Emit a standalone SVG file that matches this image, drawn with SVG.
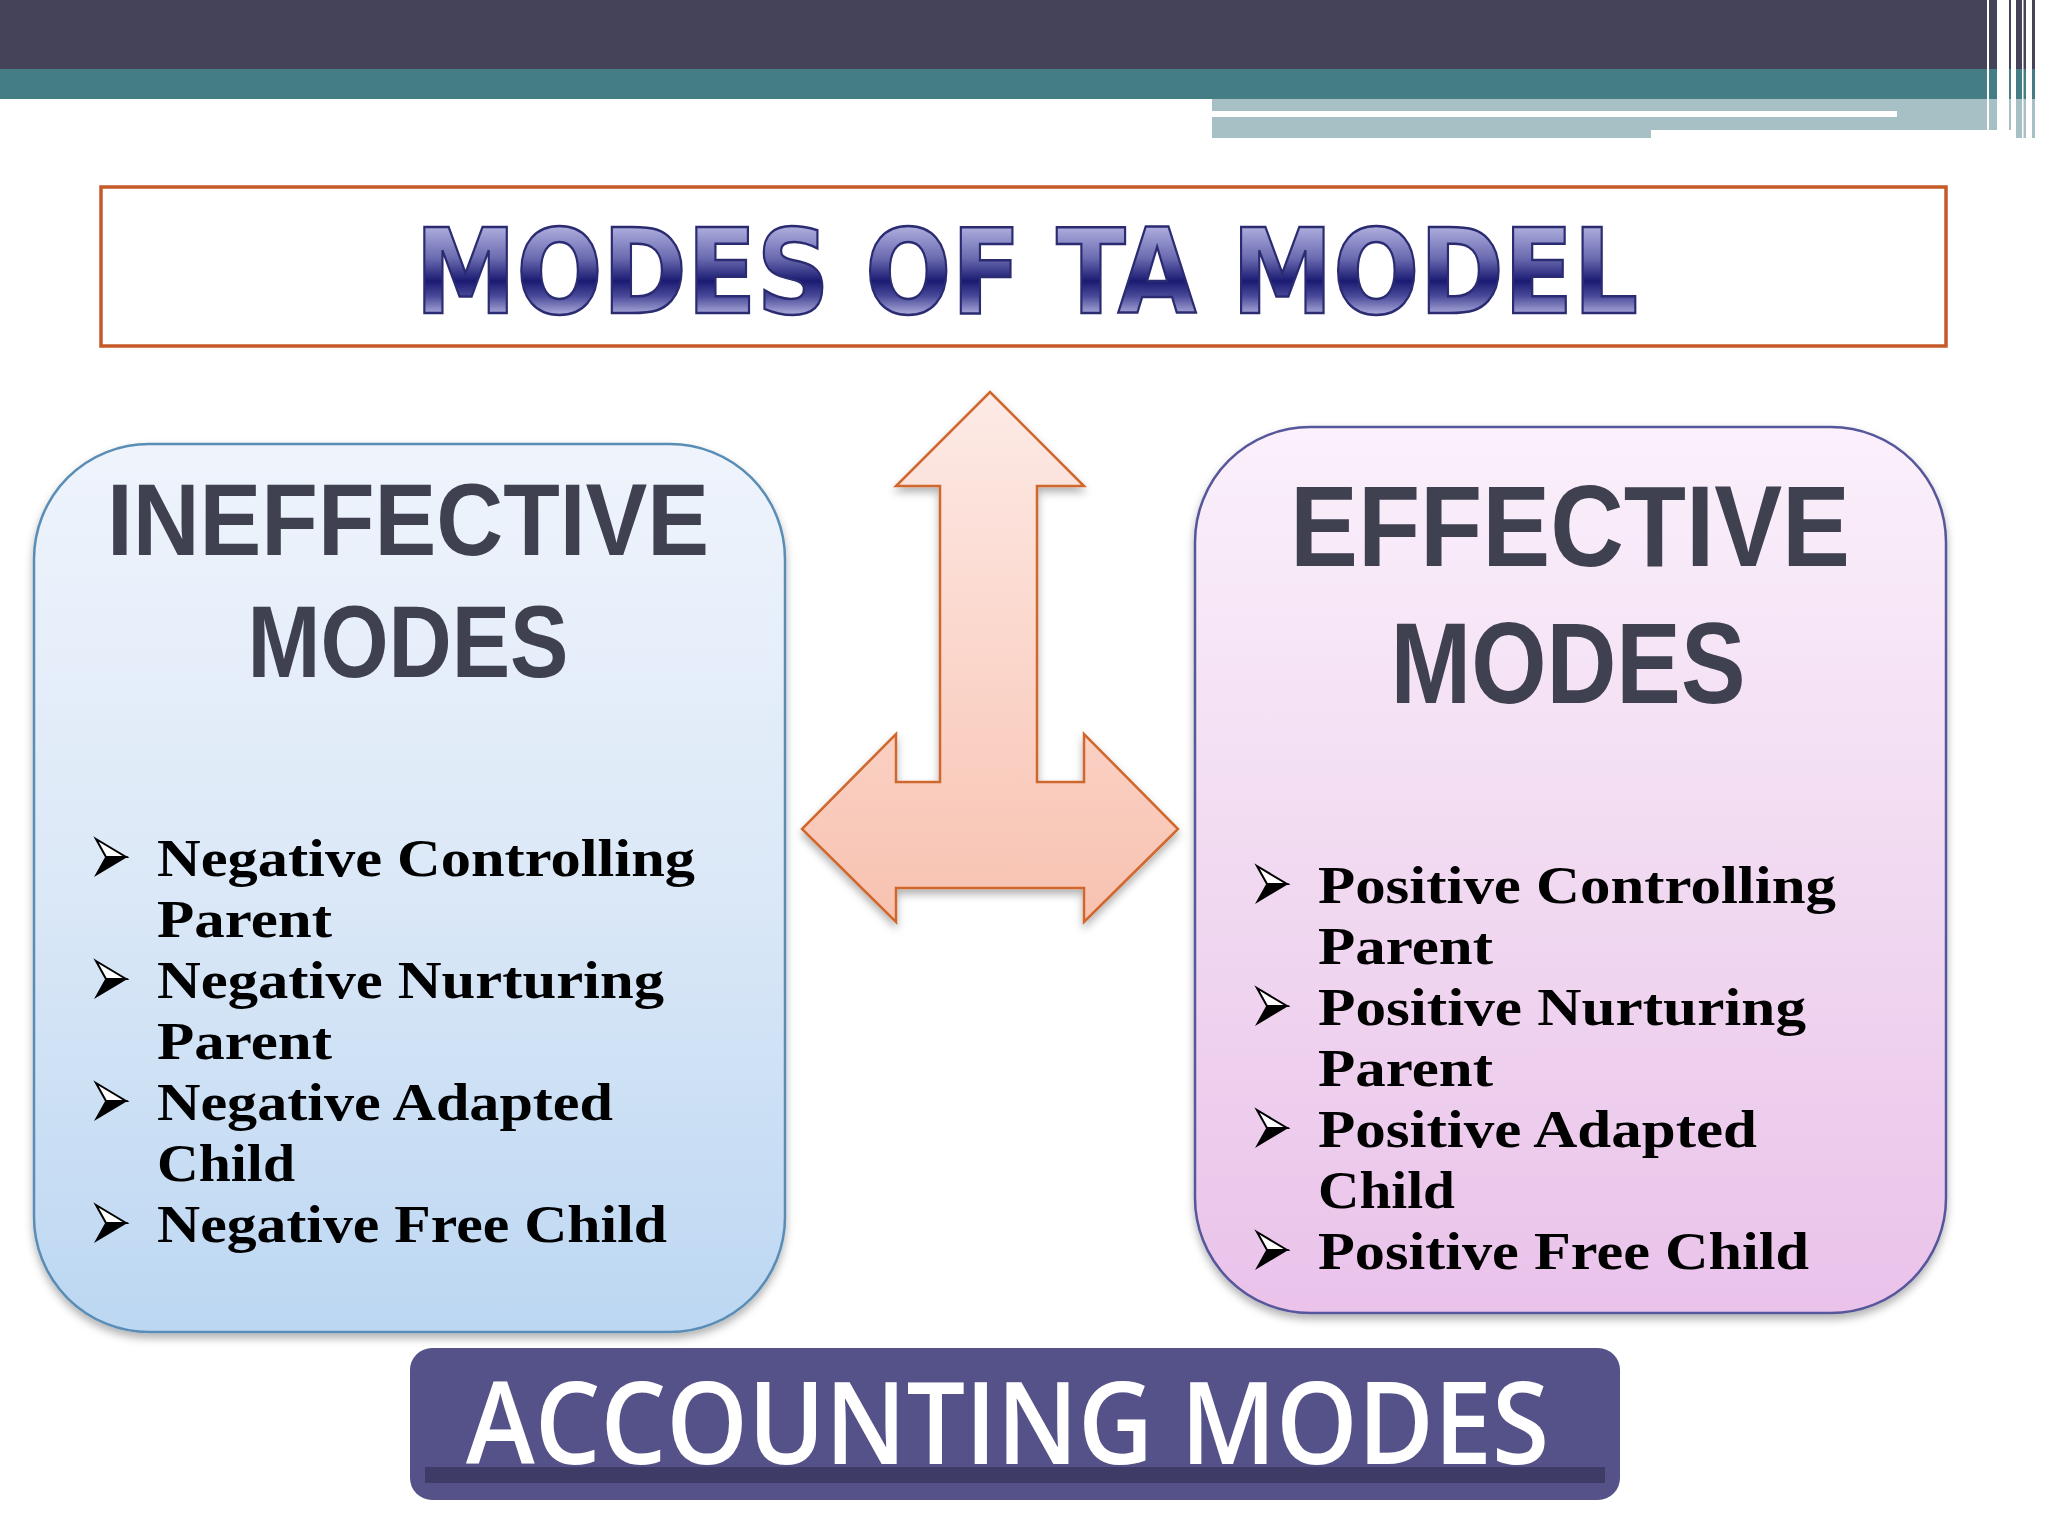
<svg xmlns="http://www.w3.org/2000/svg" width="2048" height="1536" viewBox="0 0 2048 1536">
<style>
.head{font-family:"Liberation Sans","Open Sans",sans-serif;font-weight:bold;fill:#3f4150;text-anchor:middle}
.item{font-family:"Liberation Serif","DejaVu Serif",serif;font-weight:bold;font-size:53px;fill:#000}
.bul-top{fill:#fff;stroke:#000;stroke-width:2;stroke-linejoin:miter}
.bul-bot{fill:#000;stroke:#000;stroke-width:1.5}
</style>
<defs>
<linearGradient id="gLeft" x1="0" y1="0" x2="0" y2="1">
<stop offset="0" stop-color="#eff4fc"/>
<stop offset="0.5" stop-color="#dbe8f7"/>
<stop offset="1" stop-color="#bcd7f2"/>
</linearGradient>
<linearGradient id="gRight" x1="0" y1="0" x2="0" y2="1">
<stop offset="0" stop-color="#fbf0fb"/>
<stop offset="0.5" stop-color="#f1daf1"/>
<stop offset="1" stop-color="#eac2ea"/>
</linearGradient>
<linearGradient id="gArrow" x1="0" y1="0" x2="0" y2="1">
<stop offset="0" stop-color="#fdeae6"/>
<stop offset="1" stop-color="#f8c2b0"/>
</linearGradient>
<linearGradient id="gTitle" gradientUnits="userSpaceOnUse" x1="0" y1="229" x2="0" y2="313">
<stop offset="0" stop-color="#a9a9db"/>
<stop offset="0.35" stop-color="#6a6ab0"/>
<stop offset="0.62" stop-color="#1a1a72"/>
<stop offset="0.8" stop-color="#4a4a9a"/>
<stop offset="1" stop-color="#a4a4d6"/>
</linearGradient>
<filter id="shadow" x="-5%" y="-5%" width="110%" height="112%">
<feDropShadow dx="0" dy="5" stdDeviation="4" flood-color="#000" flood-opacity="0.3"/>
</filter>
<g id="bullet">
<polygon class="bul-top" points="0,-18 30,0 10,0"/>
<polygon class="bul-bot" points="10,0 30,0 0,18"/>
</g>
</defs>
<rect width="2048" height="1536" fill="#fff"/>

<g id="header">
<rect x="0" y="0" width="2048" height="69" fill="#45435a"/>
<rect x="0" y="69" width="2048" height="30" fill="#447d84"/>
<rect x="1212" y="99" width="836" height="31" fill="#a6c0c5"/>
<rect x="1212" y="130" width="439" height="8" fill="#a6c0c5"/>
<rect x="2016" y="130" width="19" height="8" fill="#a6c0c5"/>
<rect x="1212" y="111" width="685" height="6" fill="#fff"/>
<rect x="1987" y="0" width="2" height="130" fill="#fff"/>
<rect x="1997" y="0" width="12" height="130" fill="#fff"/>
<rect x="2011" y="0" width="5" height="138" fill="#fff"/>
<rect x="2022" y="0" width="1.5" height="138" fill="#fff"/>
<rect x="2026" y="0" width="6" height="138" fill="#fff"/>
<rect x="2035" y="0" width="13" height="138" fill="#fff"/>
</g>

<g id="title">
<rect x="101" y="187" width="1845" height="159" fill="#fff" stroke="#c55a28" stroke-width="3.5"/>
<text x="415" y="313" font-family="DejaVu Sans,Verdana,sans-serif" font-weight="bold" font-size="117" textLength="1223" lengthAdjust="spacingAndGlyphs" fill="url(#gTitle)" stroke="#2b2b72" stroke-width="2.5">MODES OF TA MODEL</text>
</g>

<g id="ineffective">
<rect x="34" y="444" width="751" height="888" rx="115" ry="115" fill="url(#gLeft)" stroke="#5a8db5" stroke-width="2.5" filter="url(#shadow)"/>
<text class="head" x="408" y="555" font-size="102" textLength="602" lengthAdjust="spacingAndGlyphs">INEFFECTIVE</text>
<text class="head" x="408" y="677" font-size="102" textLength="321" lengthAdjust="spacingAndGlyphs">MODES</text>
<use href="#bullet" x="96" y="857"/>
<use href="#bullet" x="96" y="979"/>
<use href="#bullet" x="96" y="1101"/>
<use href="#bullet" x="96" y="1223"/>
<text class="item" x="157" y="876" textLength="538" lengthAdjust="spacingAndGlyphs">Negative Controlling</text>
<text class="item" x="157" y="937" textLength="175" lengthAdjust="spacingAndGlyphs">Parent</text>
<text class="item" x="157" y="998" textLength="507" lengthAdjust="spacingAndGlyphs">Negative Nurturing</text>
<text class="item" x="157" y="1059" textLength="175" lengthAdjust="spacingAndGlyphs">Parent</text>
<text class="item" x="157" y="1120" textLength="456" lengthAdjust="spacingAndGlyphs">Negative Adapted</text>
<text class="item" x="157" y="1181" textLength="138" lengthAdjust="spacingAndGlyphs">Child</text>
<text class="item" x="157" y="1242" textLength="510" lengthAdjust="spacingAndGlyphs">Negative Free Child</text>
</g>

<g id="effective">
<rect x="1195" y="427" width="751" height="886" rx="115" ry="115" fill="url(#gRight)" stroke="#57569a" stroke-width="2.5" filter="url(#shadow)"/>
<text class="head" x="1570" y="566" font-size="115" textLength="560" lengthAdjust="spacingAndGlyphs">EFFECTIVE</text>
<text class="head" x="1568" y="703" font-size="115" textLength="355" lengthAdjust="spacingAndGlyphs">MODES</text>
<use href="#bullet" x="1257" y="884"/>
<use href="#bullet" x="1257" y="1006"/>
<use href="#bullet" x="1257" y="1128"/>
<use href="#bullet" x="1257" y="1250"/>
<text class="item" x="1318" y="903" textLength="518" lengthAdjust="spacingAndGlyphs">Positive Controlling</text>
<text class="item" x="1318" y="964" textLength="175" lengthAdjust="spacingAndGlyphs">Parent</text>
<text class="item" x="1318" y="1025" textLength="488" lengthAdjust="spacingAndGlyphs">Positive Nurturing</text>
<text class="item" x="1318" y="1086" textLength="175" lengthAdjust="spacingAndGlyphs">Parent</text>
<text class="item" x="1318" y="1147" textLength="439" lengthAdjust="spacingAndGlyphs">Positive Adapted</text>
<text class="item" x="1318" y="1208" textLength="137" lengthAdjust="spacingAndGlyphs">Child</text>
<text class="item" x="1318" y="1269" textLength="491" lengthAdjust="spacingAndGlyphs">Positive Free Child</text>
</g>

<g id="connectors">
<polygon points="990,392 1084,486 1037,486 1037,782 1084,782 1084,734 1178,829 1084,922 1084,888 896,888 896,922 802,829 896,734 896,782 940,782 940,486 896,486" fill="url(#gArrow)" stroke="#d0672e" stroke-width="2.5" stroke-linejoin="miter" filter="url(#shadow)"/>
</g>

<g id="accounting">
<rect x="410" y="1348" width="1210" height="152" rx="22" ry="22" fill="#545288"/>
<rect x="425" y="1467" width="1180" height="16" fill="#3e3c66"/>
<text x="466" y="1464" font-family="Open Sans,Liberation Sans,sans-serif" font-weight="600" font-size="115" fill="#fff" textLength="1083" lengthAdjust="spacingAndGlyphs">ACCOUNTING MODES</text>
</g>
</svg>
